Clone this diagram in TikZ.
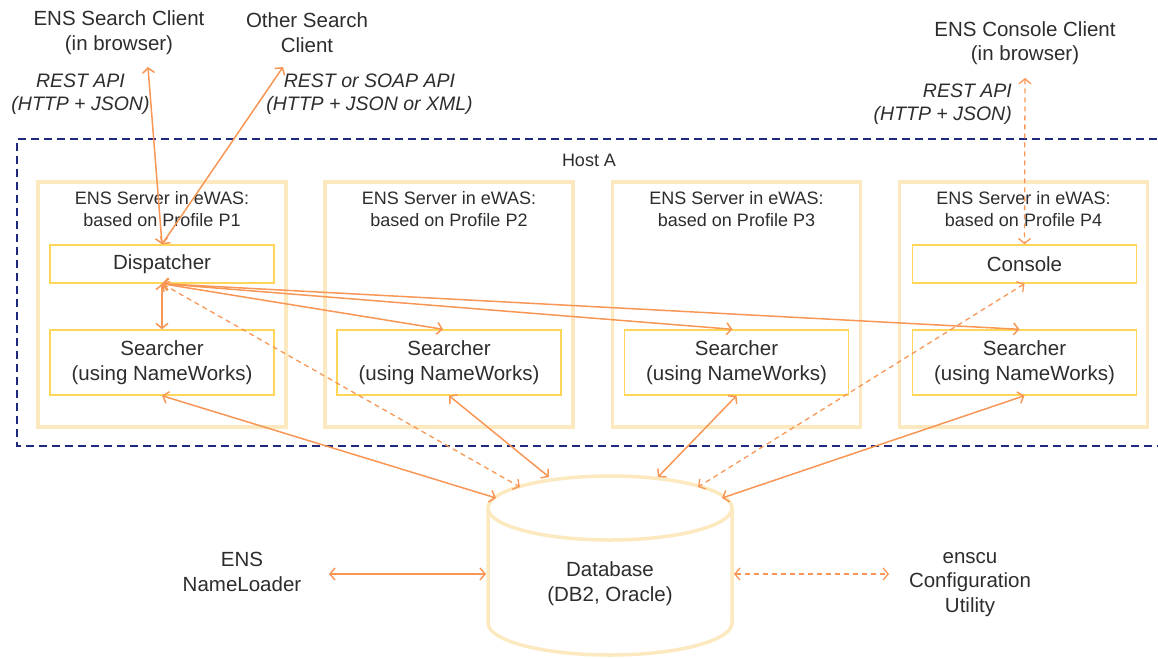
\documentclass[tikz,border=0pt]{standalone}
\usepackage{fontspec}
\setmainfont{Liberation Sans}
\usetikzlibrary{arrows.meta}
\definecolor{arr}{RGB}{247,150,85}
\definecolor{srvline}{RGB}{252,233,192}
\definecolor{inline}{RGB}{255,214,90}
\definecolor{hostline}{RGB}{30,40,125}
\definecolor{txt}{RGB}{45,45,45}
\begin{document}
\begin{tikzpicture}[x=1pt,y=-1pt,
  every node/.style={text=txt, inner sep=0pt, align=center},
  lbl/.style={font=\fontsize{20.5}{24.5}\selectfont},
  ital/.style={font=\fontsize{19.5}{23}\selectfont\itshape},
  ttl/.style={font=\fontsize{18}{22}\selectfont},
  srvbox/.style={draw=srvline, line width=3.5pt, minimum width=248pt, minimum height=245pt},
  ibox/.style={draw=inline, line width=1.4pt, minimum width=224pt, font=\fontsize{20.5}{25}\selectfont},
  conn/.style={draw=arr, line width=1.5pt, {Straight Barb[length=5pt,width=12pt]}-{Straight Barb[length=5pt,width=12pt]}},
  dconn/.style={conn, line width=1.3pt, dash pattern=on 5pt off 4pt},
]
\useasboundingbox (0,0) rectangle (1158,658);

% Host A
\draw[hostline, line width=2.5pt, dash pattern=on 8pt off 5pt] (1170,139) -- (17,139) -- (17,446) -- (1170,446);
\node[ttl] (host) at (589,160) {Host A};

% server boxes
\node[srvbox] (p1) at (162,304.5) {};
\node[srvbox] (p2) at (449,304.5) {};
\node[srvbox] (p3) at (736.5,304.5) {};
\node[srvbox] (p4) at (1023.5,304.5) {};

\node[ttl] (t1) at (162,209) {ENS Server in eWAS:\\based on Profile P1};
\node[ttl] (t2) at (449,209) {ENS Server in eWAS:\\based on Profile P2};
\node[ttl] (t3) at (736.5,209) {ENS Server in eWAS:\\based on Profile P3};
\node[ttl] (t4) at (1023.5,209) {ENS Server in eWAS:\\based on Profile P4};

\node[ibox, minimum height=38pt] (disp) at (162,264) {Dispatcher};
\node[ibox, minimum height=38pt] (cons) at (1024.5,264) {Console};
\node[ibox, minimum height=65pt] (s1) at (162,362.5) {Searcher\\(using NameWorks)};
\node[ibox, minimum height=65pt] (s2) at (449,362.5) {Searcher\\(using NameWorks)};
\node[ibox, minimum height=65pt] (s3) at (736.5,362.5) {Searcher\\(using NameWorks)};
\node[ibox, minimum height=65pt] (s4) at (1024.5,362.5) {Searcher\\(using NameWorks)};

% clients
\node[lbl] (esc) at (119,32.5) {ENS Search Client\\(in browser)};
\node[lbl] (osc) at (307,32.5) {Other Search\\Client};
\node[lbl] (ecc) at (1025,43) {ENS Console Client\\(in browser)};
\node[ital] (api1) at (80.5,94.5) {REST API\\(HTTP + JSON)};
\node[ital] (api2) at (369.5,94.5) {REST or SOAP API\\(HTTP + JSON or XML)};
\node[ital, align=right, anchor=east] (api3) at (1012,104.5) {REST API\\(HTTP + JSON)};

% database
\draw[srvline, line width=3.5pt, fill=white] (488,508) -- (488,623) arc[start angle=180, end angle=0, x radius=122, y radius=32] -- (732,508);
\draw[srvline, line width=3.5pt] (610,508) ellipse[x radius=122, y radius=32];
\node[lbl] (db) at (610,583.5) {Database\\(DB2, Oracle)};
\coordinate (dbL) at (486,574);
\coordinate (dbR) at (734,574);
\coordinate (dbA) at (496,498);
\coordinate (dbB) at (520,487);
\coordinate (dbC) at (549,477);
\coordinate (dbD) at (658,477);
\coordinate (dbE) at (698,487);
\coordinate (dbF) at (722,498);

\node[lbl] (nl) at (242,572) {ENS\\NameLoader};
\node[lbl] (cu) at (970,584.5) {enscu\\Configuration\\Utility};

% connector end points near clients
\coordinate (escP) at (148,67);
\coordinate (oscP) at (283,67);
\coordinate (eccP) at (1025,78);
\coordinate (nlP) at (329,574);
\coordinate (cuP) at (889,574);

% connectors
\draw[conn] (escP) -- (disp.north);
\draw[conn] (oscP) -- (disp.north);
\draw[dconn] (eccP) -- (cons.north);
\draw[conn] (disp.south) -- (s1.north);
\draw[conn] (disp.south) -- ([xshift=-6pt]s2.north);
\draw[conn] (disp.south) -- ([xshift=-4pt]s3.north);
\draw[conn] (disp.south) -- ([xshift=-5pt]s4.north);
\draw[dconn] (disp.south) -- (dbB);
\draw[conn] (s1.south) -- (dbA);
\draw[conn] (s2.south) -- (dbC);
\draw[conn] (s3.south) -- (dbD);
\draw[dconn] (cons.south) -- (dbE);
\draw[conn] (s4.south) -- (dbF);
\draw[conn] (nlP) -- (dbL);
\draw[dconn] (dbR) -- (cuP);
\end{tikzpicture}
\end{document}
